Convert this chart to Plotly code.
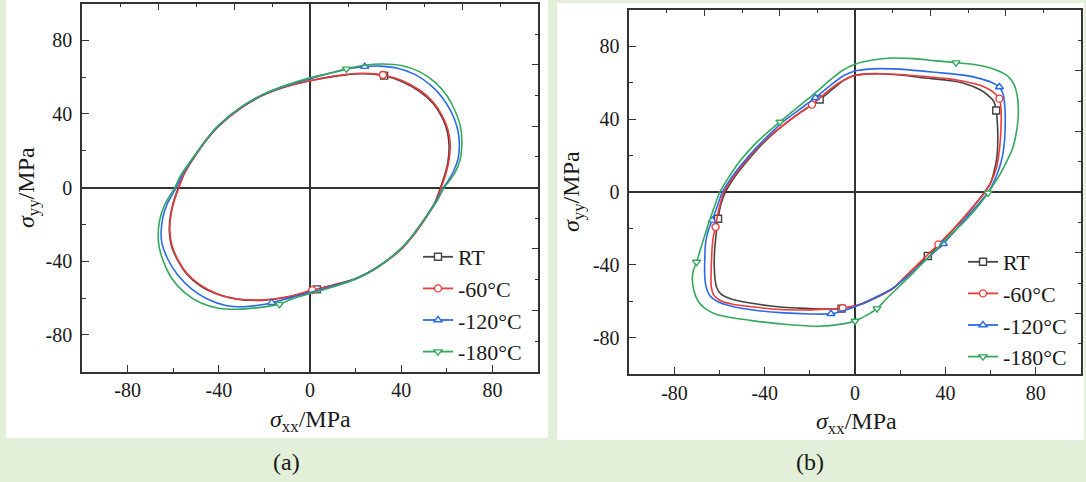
import plotly.graph_objects as go

# ---------------- data: panel (a) ----------------
rt_a_x = [0, 10, 20, 26, 32.5, 40, 48, 54, 58, 60.2, 61, 60.5, 59, 57.2, 54.8, 49.8, 44.8, 40, 30, 20, 10, 3, -10, -20, -26, -32, -40, -48, -54, -58, -60.7, -61.7, -61.2, -59.7, -57.7, -55, -50, -45, -40, -30, -20, -10, 0]
rt_a_y = [58, 60.3, 61.7, 61.7, 60.8, 57.8, 52.3, 45.7, 38, 30.5, 23, 14, 6.5, 0, -8, -18, -26.5, -33.5, -43, -49.5, -53, -55.3, -59.6, -61.2, -61.2, -60.6, -58.2, -53.5, -47, -39.5, -32, -23.5, -15, -7, 0, 8, 18, 26.5, 33.5, 43.5, 50.5, 55, 58]
m60_a_x = [0, 10, 20, 26, 32, 40, 48, 54, 58, 60.5, 61.5, 61, 59.5, 57.5, 55, 50, 45, 40, 30, 20, 10, 1, -10, -20, -26, -32, -40, -48, -54, -58, -60.5, -61.5, -61, -59.5, -57.5, -55, -50, -45, -40, -30, -20, -10, 0]
m60_a_y = [58, 60.5, 62, 62, 61.2, 58.3, 53, 46.5, 39, 31.5, 24, 15, 7, 0, -8, -18, -26.5, -33.5, -43, -49.5, -53, -55.7, -59.3, -61, -61, -60.5, -58, -53, -46.5, -39, -31.5, -23, -15, -7, 0, 8, 18, 26.5, 33.5, 43.5, 50.5, 55, 58]
m120_a_x = [0, 10, 18, 24, 30, 38, 46, 53, 58, 62, 64.7, 65.5, 65, 63, 60.5, 58.5, 55.5, 50, 45, 40, 30, 20, 10, 0, -10, -16.8, -22, -29, -37, -45, -52, -58, -62.5, -65, -65.3, -64.5, -62.5, -60.5, -58.7, -56, -50, -45, -40, -30, -20, -10, 0]
m120_a_y = [59.2, 62.5, 64.8, 65.7, 66, 65, 61.5, 55.5, 49, 41, 32, 24, 16, 9, 3.5, 0, -7, -17.5, -26, -33, -42.8, -49.5, -53.5, -57, -60.3, -62.5, -63.8, -64.7, -64, -60.5, -55, -47.5, -38.5, -30, -24, -16, -8.5, -4, 0, 7, 18.3, 26.8, 33.8, 43.8, 50.8, 55.5, 59.2]
m180_a_x = [0, 10, 16, 24, 32, 40, 48, 55, 60, 63.5, 66, 66.6, 65.8, 63.5, 61, 58.8, 55.8, 50, 45, 40, 30, 20, 10, 0, -8, -13.4, -20, -32, -40, -48, -55, -60.5, -64, -66.2, -66.6, -66, -63.8, -61.3, -59.3, -56.5, -50, -45, -40, -30, -20, -10, 0]
m180_a_y = [59.6, 62.5, 64.5, 66.5, 67.1, 66.3, 63, 57, 50, 42, 33, 24, 15, 8, 3.5, 0, -7, -17.5, -26, -33, -43, -49.8, -54, -57.5, -60.5, -63.4, -64.8, -66.1, -65.5, -62.5, -57, -49.5, -41, -32, -26, -18, -9.5, -4, 0, 7, 18.5, 27, 34, 44, 51, 55.8, 59.6]

rt_a_mx, rt_a_my = [32.5, 3], [60.8, -55.3]
m60_a_mx, m60_a_my = [32, 1], [61.2, -55.7]
m120_a_mx, m120_a_my = [24, -16.8], [65.7, -62.5]
m180_a_mx, m180_a_my = [16, -13.4], [64.5, -63.4]

# ---------------- data: panel (b) ----------------
rt_b_x = [0, 6, 11, 20, 30, 40.6, 48, 55.4, 59, 61.3, 62.5, 63, 63.2, 62.8, 61.5, 60, 57.4, 54, 49, 43, 37, 32.2, 24, 17, 9, 2, -6, -15, -25, -33, -45, -55.2, -59.5, -61.3, -62, -62.4, -62.2, -61.6, -60.7, -59.5, -57.4, -53.5, -48.5, -42.5, -36.5, -30.5, -23, -15.7, -10, -5, 0]
rt_b_y = [64.1, 64.9, 65, 64.3, 62.8, 61.4, 59.8, 56.2, 53, 50, 44.8, 38, 30, 19.2, 11, 5, 0, -5.5, -13, -21.3, -29, -35.2, -44.5, -52.8, -58.3, -62, -64.1, -64.3, -63.8, -63.2, -61.3, -58.6, -56, -52.5, -48, -40, -32, -24, -14.7, -7, 0, 8, 16, 24.5, 31.8, 38, 44.8, 50.8, 56.5, 61.3, 64.1]
m60_b_x = [0, 6, 11, 20, 30, 40.6, 48, 55.4, 59.5, 62, 63.9, 64.6, 64.7, 64.4, 63.6, 62.7, 60.6, 57.6, 54, 49, 43, 36.9, 30, 23.5, 17, 9, 2, -5.5, -15, -25, -33, -45, -55.2, -60, -62.5, -63.7, -63.8, -63.6, -63.3, -62.7, -61.8, -60.8, -59.6, -58.1, -54, -49, -43, -37, -31, -25, -19.1, -11, -5, 0]
m60_b_y = [64.1, 64.9, 65, 64.6, 63.6, 62.3, 60.8, 58.6, 56.3, 54, 51.3, 46, 40, 30, 20, 13.7, 6.5, 0, -5.5, -12.8, -21, -28.8, -37, -45, -52.8, -58, -61.8, -63.7, -64.5, -64.8, -64.6, -63.2, -61.4, -59.5, -56.8, -52, -45, -38, -30.2, -24, -19.2, -12, -6, 0, 8, 16, 24.5, 31.5, 37.5, 43, 48, 56.5, 61.5, 64.1]
m120_b_x = [0, 6, 11, 20, 30, 40.6, 48, 55.4, 60.3, 63.9, 65.6, 66.3, 66.5, 66.2, 65.3, 64, 61.8, 59, 55, 50, 44.5, 39.1, 32, 25, 17, 8, 0, -10.7, -20, -33, -45, -55.2, -61, -64.3, -66, -66.6, -66.6, -66.2, -65, -63.3, -61.2, -58.8, -55, -50, -44, -38, -32, -25, -17.6, -10, -5, 0]
m120_b_y = [66.5, 67.5, 67.8, 67.5, 66.4, 65.2, 64.2, 62.3, 60.3, 57.7, 53.5, 47, 38, 28.4, 20, 13.7, 6.5, 0, -6, -13, -21, -28.4, -36.5, -44.5, -52.5, -58.5, -63, -66.9, -67, -66.3, -64.8, -62.6, -60.2, -57, -52, -46, -38, -28, -21, -15.6, -8.5, 0, 7.5, 15.5, 24, 31.5, 38.5, 45, 51.8, 59.5, 64, 66.5]
m180_b_x = [0, 8, 16, 26, 35, 44.7, 52, 58, 63, 67.4, 70.2, 71.8, 72.3, 72.1, 71.3, 69.8, 67.4, 64.3, 61.5, 58.9, 55, 49, 44, 39.2, 33, 26, 19, 14, 9.7, 5, 0, -6, -16.4, -30, -45, -55, -62, -66.5, -69.5, -71.3, -72.1, -71.6, -70.2, -68, -65.4, -62.7, -59.9, -56, -51, -45, -39, -33.3, -26, -18, -12, -6, 0]
m180_b_y = [70.2, 72.5, 73.6, 73.3, 72.2, 71.1, 70.2, 68.8, 66.8, 64, 59.5, 53, 46, 39, 32, 24, 17.4, 10, 4.5, -0.5, -7, -15.5, -21.5, -27.5, -35, -44, -52.5, -58.5, -64.1, -67.8, -70.9, -72.6, -73.8, -72.8, -70.8, -69, -67, -64, -60, -54.5, -48, -43, -38.5, -29.5, -19.2, -9.5, 0, 8, 17, 25.5, 32.5, 38.5, 46, 54, 60.5, 66.5, 70.2]

rt_b_mx, rt_b_my = [62.5, 32.2, -6, -60.7, -15.7], [44.8, -35.2, -64.1, -14.7, 50.8]
m60_b_mx, m60_b_my = [63.9, 36.9, -5.5, -61.8, -19.1], [51.3, -28.8, -63.7, -19.2, 48]
m120_b_mx, m120_b_my = [63.9, 39.1, -10.7, -63.3, -17.6], [57.7, -28.4, -66.9, -15.6, 51.8]
m180_b_mx, m180_b_my = [44.7, 58.9, 9.7, 0, -70.2, -33.3], [71.1, -0.5, -64.1, -70.9, -38.5, 38.5]

names = ["RT", "-60°C", "-120°C", "-180°C"]
colors = ["#444444", "#ee3a3a", "#2b6ae6", "#34a85c"]
symbols = ["square", "circle", "triangle-up", "triangle-down"]
tick_vals = [-80, -40, 0, 40, 80]
tick_text = ["-80", "-40", "0", "40", "80"]

panel_a = [(rt_a_x, rt_a_y, rt_a_mx, rt_a_my), (m60_a_x, m60_a_y, m60_a_mx, m60_a_my),
           (m120_a_x, m120_a_y, m120_a_mx, m120_a_my), (m180_a_x, m180_a_y, m180_a_mx, m180_a_my)]
panel_b = [(rt_b_x, rt_b_y, rt_b_mx, rt_b_my), (m60_b_x, m60_b_y, m60_b_mx, m60_b_my),
           (m120_b_x, m120_b_y, m120_b_mx, m120_b_my), (m180_b_x, m180_b_y, m180_b_mx, m180_b_my)]

W, H = 1086, 482
FONT = '"Liberation Serif", "Times New Roman", serif'
AX = "#333333"
TXT = "#1a1a1a"
GREEN_BG = "#E2EFD9"

fig = go.Figure()

def add_panel(data, xa, ya, legend):
    for i, (lx, ly, mx, my) in enumerate(data):
        c = colors[i]
        fig.add_trace(go.Scatter(x=lx, y=ly, mode="lines", xaxis=xa, yaxis=ya,
                                 line=dict(color=c, width=1.6, shape="spline", smoothing=0.7),
                                 showlegend=False, hoverinfo="skip"))
        fig.add_trace(go.Scatter(x=mx, y=my, mode="markers", xaxis=xa, yaxis=ya,
                                 marker=dict(symbol=symbols[i], size=7, color="white",
                                             line=dict(color=c, width=1.4)),
                                 showlegend=False, hoverinfo="skip"))
    for i in range(4):
        c = colors[i]
        fig.add_trace(go.Scatter(x=[None], y=[None], mode="lines+markers", xaxis=xa, yaxis=ya,
                                 name=names[i], legend=legend,
                                 line=dict(color=c, width=1.8),
                                 marker=dict(symbol=symbols[i], size=7, color="white",
                                             line=dict(color=c, width=1.4))))

add_panel(panel_a, "x", "y", "legend")
add_panel(panel_b, "x2", "y2", "legend2")

# invisible traces so the mirrored top/right tick axes are drawn
for xa, ya in [("x3", "y"), ("x", "y3"), ("x4", "y2"), ("x2", "y4")]:
    fig.add_trace(go.Scatter(x=[0], y=[0], xaxis=xa, yaxis=ya, mode="markers",
                             marker=dict(opacity=0), showlegend=False, hoverinfo="skip"))

def main_axis(domain, anchor, standoff):
    return dict(domain=domain, anchor=anchor, range=[-100, 100], tickmode="array",
                tickvals=tick_vals, ticktext=tick_text,
                ticks="inside", ticklen=7, tickwidth=1.4, tickcolor=AX,
                minor=dict(tickmode="linear", dtick=20, tick0=0, ticks="inside", ticklen=4,
                           tickwidth=1.4, tickcolor=AX),
                showline=True, linecolor=AX, linewidth=1.5, mirror=True,
                zeroline=True, zerolinecolor=AX, zerolinewidth=1.5, showgrid=False,
                tickfont=dict(family=FONT, size=20, color=TXT), ticklabelstandoff=standoff)

def mirror_axis(over, side, anchor):
    return dict(overlaying=over, side=side, anchor=anchor, range=[-120, 120], tickmode="linear", tick0=0,
                dtick=40, ticks="inside", ticklen=6, tickwidth=1.4, tickcolor=AX,
                minor=dict(dtick=20, tick0=0, ticks="inside", ticklen=3, tickwidth=1.4, tickcolor=AX),
                showticklabels=False, showline=False, zeroline=False, showgrid=False)

xa_dom = [82 / W, 538 / W]
ya_dom = [1 - 371.7 / H, 1 - 3.5 / H]
xb_dom = [629.3 / W, 1080.9 / W]
yb_dom = [1 - 374 / H, 1 - 10 / H]

leg_common = dict(xanchor="left", yanchor="top", bgcolor="rgba(0,0,0,0)", borderwidth=0,
                  font=dict(family=FONT, size=22, color=TXT), itemwidth=30, tracegroupgap=0)

def note(text, px, py, angle=0, size=24):
    return dict(text=text, x=px / W, y=1 - py / H, xref="paper", yref="paper", xanchor="center",
                yanchor="middle", showarrow=False, textangle=angle,
                font=dict(family=FONT, size=size, color=TXT))

fig.update_layout(
    width=W, height=H, margin=dict(l=0, r=0, t=0, b=0),
    paper_bgcolor=GREEN_BG, plot_bgcolor="white",
    xaxis=main_axis(xa_dom, "y", 0), yaxis=main_axis(ya_dom, "x", 4),
    xaxis2=main_axis(xb_dom, "y2", 0), yaxis2=main_axis(yb_dom, "x2", 4),
    xaxis3=mirror_axis("x", "top", "y"), yaxis3=mirror_axis("y", "right", "x"),
    xaxis4=mirror_axis("x2", "top", "y2"), yaxis4=mirror_axis("y2", "right", "x2"),
    legend=dict(x=418 / W, y=1 - 236 / H, **leg_common),
    legend2=dict(x=963 / W, y=1 - 241 / H, **leg_common),
    shapes=[
        dict(type="rect", xref="paper", yref="paper", x0=6 / W, x1=548 / W, y0=1 - 438 / H, y1=1,
             fillcolor="white", line=dict(width=0), layer="below"),
        dict(type="rect", xref="paper", yref="paper", x0=557 / W, x1=1084 / W, y0=1 - 440 / H, y1=1 - 3 / H,
             fillcolor="white", line=dict(width=0), layer="below"),
    ],
    annotations=[
        note("<i>σ</i><sub>xx</sub>/MPa", 310, 421),
        note("<i>σ</i><sub>yy</sub>/MPa", 28, 188, angle=-90),
        note("<i>σ</i><sub>xx</sub>/MPa", 856, 423),
        note("<i>σ</i><sub>yy</sub>/MPa", 573, 192, angle=-90),
        note("(a)", 286, 462),
        note("(b)", 810, 462),
    ],
)

fig.write_html("out.html")
